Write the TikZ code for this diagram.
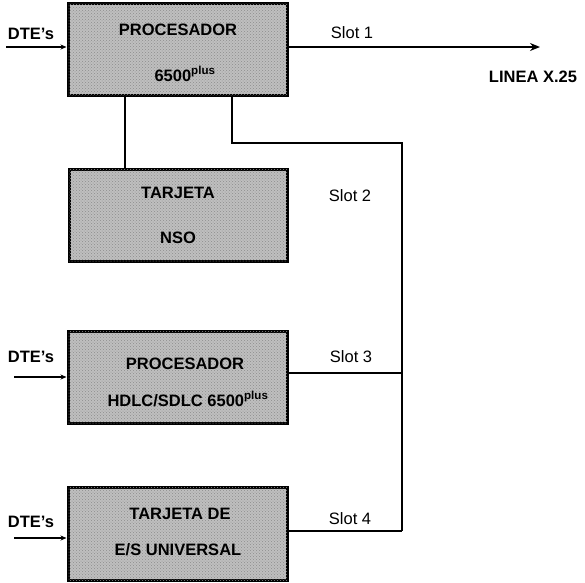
\documentclass[tikz,border=0pt]{standalone}
\usepackage{fontspec}
\setmainfont{Liberation Sans}
\usetikzlibrary{arrows.meta,patterns}
\begin{document}
\begin{tikzpicture}[x=1pt,y=-1pt,
  blk/.style={draw=black, line width=3pt, fill=gray!50,
    postaction={pattern=crosshatch dots, pattern color=black!45},
    inner sep=0pt},
  btxt/.style={font=\fontsize{16.5}{18}\selectfont\bfseries, inner sep=0pt},
  lbl/.style={font=\fontsize{16.5}{18}\selectfont, inner sep=0pt},
  blbl/.style={font=\fontsize{16.5}{18}\selectfont\bfseries, inner sep=0pt},
  wire/.style={line width=2pt},
  inarr/.style={line width=1.6pt, -{Stealth[length=6pt,width=5pt]}},
  outarr/.style={line width=1.6pt, -{Stealth[length=10pt,width=8pt]}}
]
\useasboundingbox (0,0) rectangle (585,582);

% boxes
\node[blk, minimum width=219pt, minimum height=92pt] (b1) at (177.5,49) {};
\node[blk, minimum width=218pt, minimum height=92pt] (b2) at (178,215) {};
\node[blk, minimum width=219pt, minimum height=92pt] (b3) at (177.5,377) {};
\node[blk, minimum width=219pt, minimum height=93pt] (b4) at (177.5,533.5) {};

% box texts
\node[btxt] (t1a) at (178,30) {PROCESADOR};
\node[btxt] (t1b) at (185,74) {6500\textsuperscript{plus}};
\node[btxt] (t2a) at (178,193) {TARJETA};
\node[btxt] (t2b) at (178,238) {NSO};
\node[btxt] (t3a) at (185,364) {PROCESADOR};
\node[btxt] (t3b) at (188,399) {HDLC/SDLC 6500\textsuperscript{plus}};
\node[btxt] (t4a) at (180,514) {TARJETA DE};
\node[btxt] (t4b) at (178,550) {E/S UNIVERSAL};

% DTE inputs
\node[blbl] (d1) at (31,34) {DTE's};
\node[blbl] (d3) at (31,357) {DTE's};
\node[blbl] (d4) at (31,522) {DTE's};
\coordinate (s1) at (6,47);
\coordinate (s3) at (14,377);
\coordinate (s4) at (14,538);
\draw[inarr] (s1) -- ([yshift=2pt]b1.west);
\draw[inarr] (s3) -- (b3.west);
\draw[inarr] (s4) -- ([yshift=-4.5pt]b4.west);

% slot labels
\node[lbl] (sl1) at (352,33) {Slot 1};
\node[lbl] (sl2) at (350,196) {Slot 2};
\node[lbl] (sl3) at (351,357) {Slot 3};
\node[lbl] (sl4) at (350,519) {Slot 4};
\node[blbl] (lx) at (533,77) {LINEA X.25};

% connectors
\coordinate (e1) at (540,47);
\draw[outarr] ([yshift=2pt]b1.east) -- (e1);
\draw[wire] ([xshift=-52.5pt]b1.south) -- ([xshift=-53pt]b2.north);
\coordinate (c1) at (232,143);
\coordinate (c2) at (402,143);
\coordinate (c3) at (402,373);
\coordinate (c4) at (402,531);
\draw[wire] ([xshift=54.5pt]b1.south) -- (c1) -- (c2) -- (c4);
\draw[wire] ([yshift=4pt]b3.east) -- (c3);
\draw[wire] ([yshift=2.5pt]b4.east) -- (c4);
\end{tikzpicture}
\end{document}
